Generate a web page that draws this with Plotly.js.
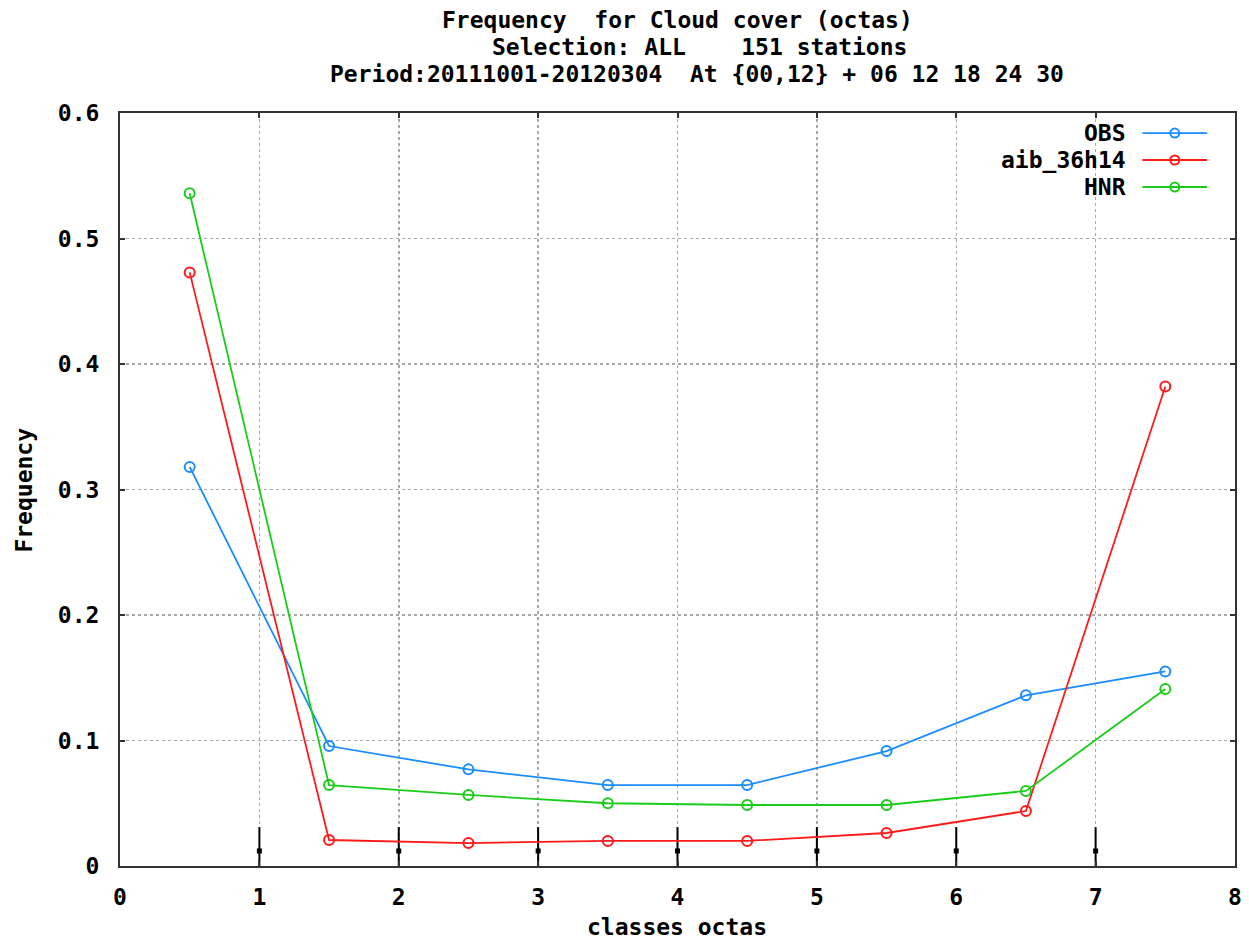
<!DOCTYPE html>
<html>
<head>
<meta charset="utf-8">
<script src="https://cdn.plot.ly/plotly-3.0.1.min.js"></script>
<style>html,body{margin:0;padding:0;background:#fff;}#chart{width:1249px;height:943px;}</style>
</head>
<body>
<div id="chart"></div>
<script>
var classes = [0.5, 1.5, 2.5, 3.5, 4.5, 5.5, 6.5, 7.5];
var obs = [0.318, 0.0956, 0.077, 0.0645, 0.0645, 0.0916, 0.136, 0.155];
var aib = [0.473, 0.0207, 0.0183, 0.020, 0.020, 0.0263, 0.0438, 0.382];
var hnr = [0.536, 0.0645, 0.0566, 0.050, 0.0486, 0.0486, 0.0598, 0.141];
var seriesNames = ["OBS", "aib_36h14", "HNR"];
var seriesColors = ["#1a8cff", "#ff1a1a", "#1acc1a"];
var markX = [1, 2, 3, 4, 5, 6, 7];
var markMid = [0.012, 0.012, 0.012, 0.012, 0.012, 0.012, 0.012];
var markUp = [0.019, 0.019, 0.019, 0.019, 0.019, 0.019, 0.019];
var markDown = [0.012, 0.012, 0.012, 0.012, 0.012, 0.012, 0.012];
var yTickVals = [0, 0.1, 0.2, 0.3, 0.4, 0.5, 0.6];
var yTickText = ["0", "0.1", "0.2", "0.3", "0.4", "0.5", "0.6"];
var titleLines = ["Frequency  for Cloud cover (octas)", "Selection: ALL    151 stations", "Period:20111001-20120304  At {00,12} + 06 12 18 24 30"];
var xTitle = "classes octas";
var yTitle = "Frequency";

var font = "DejaVu Sans Mono, monospace";
var fs = 23;
function bf(size) { return {family: font, size: size, color: "#000", weight: "bold"}; }

var vals = [obs, aib, hnr];
var traces = [];
traces.push({
  x: markX, y: markMid, type: "scatter", mode: "markers", showlegend: false, hoverinfo: "skip",
  marker: {symbol: "square", size: 5, color: "#000"},
  error_y: {type: "data", symmetric: false, array: markUp, arrayminus: markDown, width: 0, thickness: 2, color: "#000"}
});
for (var i = 0; i < 3; i++) {
  traces.push({
    x: classes, y: vals[i], name: seriesNames[i], type: "scatter", mode: "lines+markers", showlegend: false,
    line: {color: seriesColors[i], width: 1.8},
    marker: {symbol: "circle-open", size: 10, color: seriesColors[i], line: {width: 2, color: seriesColors[i]}}
  });
}

var annotations = [];
var titleX = [0.4996, 0.520, 0.5175];
var titleY = [1.1235, 1.0876, 1.0518];
for (var t = 0; t < titleLines.length; t++) {
  annotations.push({text: titleLines[t], xref: "paper", yref: "paper", x: titleX[t], y: titleY[t],
    xanchor: "center", yanchor: "middle", showarrow: false, font: bf(fs)});
}
annotations.push({text: xTitle, xref: "paper", yref: "paper", x: 0.4996, y: -0.081, xanchor: "center", yanchor: "middle", showarrow: false, font: bf(fs)});
annotations.push({text: yTitle, xref: "paper", yref: "paper", x: -0.0865, y: 0.4993, xanchor: "center", yanchor: "middle", textangle: -90, showarrow: false, font: bf(fs)});

var shapes = [];
var keyY = [0.9734, 0.9376, 0.9017];
for (var k = 0; k < 3; k++) {
  annotations.push({text: seriesNames[k], xref: "paper", yref: "paper", x: 0.904, y: keyY[k], xanchor: "right", yanchor: "middle", showarrow: false, font: bf(fs)});
  shapes.push({type: "line", xref: "paper", yref: "paper", x0: 0.917, x1: 0.975, y0: keyY[k], y1: keyY[k], line: {color: seriesColors[k], width: 1.8}});
  shapes.push({type: "circle", xref: "paper", yref: "paper", xsizemode: "pixel", ysizemode: "pixel",
    xanchor: 0.946, yanchor: keyY[k], x0: -4.5, x1: 4.5, y0: -4.5, y1: 4.5, line: {color: seriesColors[k], width: 2}, fillcolor: "rgba(0,0,0,0)"});
}

var layout = {
  width: 1249, height: 943,
  paper_bgcolor: "#fff", plot_bgcolor: "#fff",
  margin: {l: 120, r: 14, t: 113, b: 77},
  font: {family: font, size: fs, color: "#000"},
  showlegend: false,
  annotations: annotations,
  shapes: shapes,
  xaxis: {
    range: [0, 8], dtick: 1, tick0: 0, showgrid: true, gridcolor: "#a8a8a8", griddash: "dot", gridwidth: 1.5,
    zeroline: false, showline: true, linecolor: "#333", linewidth: 2, mirror: "ticks",
    ticks: "inside", ticklen: 5, tickwidth: 2, tickcolor: "#333", ticklabelstandoff: 9,
    tickfont: bf(fs)
  },
  yaxis: {
    range: [0, 0.6], tickmode: "array", tickvals: yTickVals, ticktext: yTickText,
    showgrid: true, gridcolor: "#a8a8a8", griddash: "dot", gridwidth: 1.5,
    zeroline: false, showline: true, linecolor: "#333", linewidth: 2, mirror: "ticks",
    ticks: "inside", ticklen: 5, tickwidth: 2, tickcolor: "#333", ticklabelstandoff: 14,
    tickfont: bf(fs)
  }
};
Plotly.newPlot("chart", traces, layout, {displayModeBar: false, staticPlot: true});
</script>
</body>
</html>
